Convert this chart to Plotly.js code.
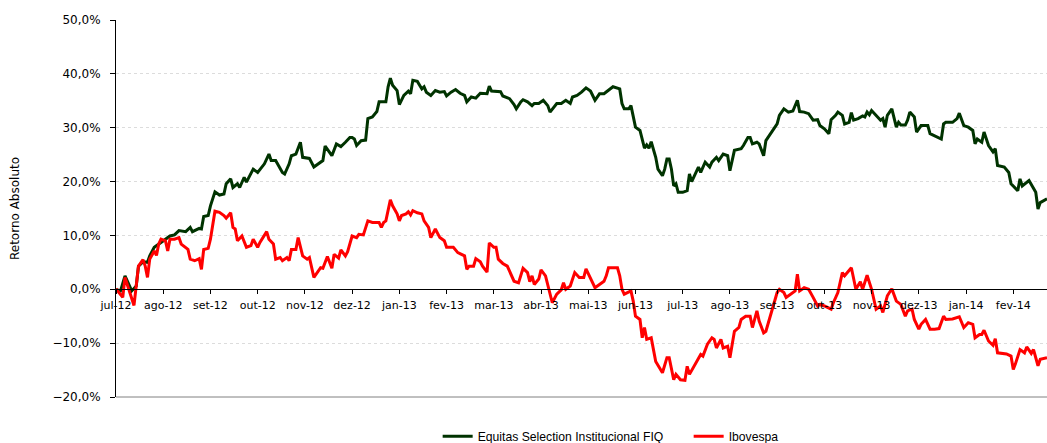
<!DOCTYPE html>
<html>
<head>
<meta charset="utf-8">
<script src="https://cdn.plot.ly/plotly-3.0.1.min.js"></script>
<style>
html,body{margin:0;padding:0;background:#fff;}
#chart{width:1047px;height:443px;}
</style>
</head>
<body>
<div id="chart"></div>
<script>
// Month labels (one every 21 trading days)
const monthLabels = ["jul-12","ago-12","set-12","out-12","nov-12","dez-12","jan-13","fev-13","mar-13","abr-13","mai-13","jun-13","jul-13","ago-13","set-13","out-13","nov-13","dez-13","jan-14","fev-14"];
const daysPerTick = 21;
const lastDay = 414;

// Equitas Selection Institucional FIQ (trading-day index, return %)
const equitasDay = [0,2,4,7,9,10,12,14,15,17,20,22,24,26,28,31,33,34,37,38,39,41,42,44,46,48,49,51,52,54,55,57,58,61,63,66,68,69,71,74,75,77,78,80,82,83,86,88,90,92,93,96,98,100,102,104,105,106,107,109,111,112,114,116,117,120,121,122,123,125,126,128,130,131,132,134,136,137,138,140,142,144,146,147,149,151,153,155,156,158,160,162,165,166,167,169,171,172,175,177,178,180,181,183,185,186,188,190,192,193,194,196,198,200,202,203,205,207,209,211,213,215,217,219,220,221,224,225,226,228,229,230,231,233,235,236,237,238,240,241,243,244,245,246,247,248,249,250,252,254,255,256,258,259,260,262,264,265,267,268,270,272,273,275,278,279,281,282,283,285,286,288,289,291,292,294,295,297,299,301,303,304,306,308,310,312,313,315,317,318,320,321,323,324,326,327,328,330,332,333,334,335,336,338,340,341,342,343,345,347,348,349,351,352,353,355,356,358,360,361,362,364,366,367,368,369,372,374,375,377,379,381,382,383,385,386,388,390,391,392,395,397,398,401,402,403,406,407,409,410,411,414];
const equitasRet = [0,-0.3,2.5,-0.3,0.6,4.3,5.1,5.0,6.2,7.8,8.7,9.3,9.9,10.1,10.9,10.7,11.5,10.7,11.3,11.2,13.5,13.7,15.5,18.1,17.5,17.7,19.6,20.5,18.9,19.6,18.9,20.8,19.9,22.3,21.7,23.3,25.1,23.9,23.9,21.7,21.4,23.3,24.8,25.1,27.3,24.5,24.3,22.7,23.3,23.9,26.6,24.8,27.0,26.5,27.3,28.2,28.2,27.9,26.7,27.6,27.7,31.7,32.0,33.0,34.8,34.8,37.6,39.2,37.9,36.9,34.3,36.0,36.8,36.3,38.8,38.6,37.2,37.6,36.6,36.0,36.9,36.6,36.7,35.9,36.6,37.1,36.4,36.0,34.8,35.7,35.5,36.4,36.3,37.7,36.8,36.8,36.7,35.9,35.4,34.3,33.5,34.8,35.2,34.8,34.1,34.5,34.5,35.1,34.1,32.9,33.5,34.5,34.5,35.1,34.5,35.7,36.0,36.6,37.4,36.8,35.1,36.3,36.3,36.9,37.2,37.6,37.2,34.5,33.5,33.5,34.1,32.3,30.1,29.5,26.2,26.8,26.2,27.4,24.5,22.3,21.1,22.3,24.2,24.2,22.3,19.2,19.6,18.0,18.0,18.3,21.4,20.0,21.7,22.7,21.7,23.6,22.7,23.6,24.5,23.9,25.1,24.8,22.0,25.8,26.1,26.7,28.2,28.2,27.0,27.3,27.0,24.8,27.6,28.9,29.5,30.7,32.3,33.5,32.9,33.1,35.1,33.0,32.9,32.6,31.4,31.5,30.4,29.8,28.9,31.5,32.3,32.9,32.3,30.7,31.0,32.8,31.4,31.7,32.2,32.0,32.9,32.4,33.2,32.3,31.4,31.7,30.1,32.3,33.5,30.1,31.0,30.5,30.5,31.4,32.9,32.0,29.2,30.4,30.4,30.4,28.9,28.5,28.2,27.9,30.7,31.0,31.0,31.7,32.7,30.4,30.1,29.5,27.0,27.9,27.3,29.2,26.7,25.5,26.1,23.0,22.7,21.7,19.6,18.3,20.5,19.2,20.2,19.4,18.0,14.9,16.1,16.8];

// Ibovespa (trading-day index, return %)
const ibovDay = [0,3,4,6,8,10,12,13,14,15,17,18,19,20,22,23,24,26,28,29,31,32,33,35,37,38,39,41,42,44,46,48,49,51,52,53,54,56,58,60,61,63,64,67,68,70,71,73,74,76,77,78,80,81,83,85,86,88,91,92,94,96,97,99,100,102,103,104,105,107,108,110,112,114,117,118,119,120,122,123,125,126,127,129,130,131,132,134,136,137,139,140,142,144,146,147,150,152,155,156,157,159,160,162,163,165,166,168,169,170,172,174,176,177,179,181,183,184,185,186,188,189,191,193,194,196,198,199,200,202,204,206,208,209,211,213,215,217,218,219,223,224,225,226,229,230,231,233,234,235,236,238,239,240,243,245,246,248,249,251,253,254,255,258,260,261,263,265,266,267,269,270,272,273,275,277,278,280,282,283,285,286,288,289,291,292,294,295,297,298,301,302,303,304,306,308,310,312,313,315,318,319,321,323,324,327,329,331,332,334,336,338,340,341,343,345,347,349,351,352,354,355,357,358,360,362,364,366,368,369,372,375,377,379,381,382,384,385,386,388,390,391,392,395,396,398,399,400,402,404,405,407,408,410,411,414];
const ibovRet = [0.1,-1.5,2.2,-0.6,-3.0,4.3,5.5,4.3,2.2,5.6,7.1,6.3,8.4,9.3,9.0,7.1,9.3,9.3,9.6,8.4,7.8,7.4,5.6,5.3,5.7,3.7,7.4,7.6,9.3,14.5,14.3,13.7,13.2,14.2,11.5,11.2,9.0,9.9,7.8,8.1,9.3,7.8,8.7,10.7,9.3,8.4,5.6,5.9,5.3,5.9,5.3,7.4,7.4,9.6,6.2,5.6,5.9,2.2,4.0,3.9,6.1,3.9,6.5,5.8,7.3,6.2,7.0,8.7,9.9,9.6,10.2,10.1,12.7,12.4,12.4,11.5,12.4,12.7,16.6,15.5,14.0,12.7,13.7,14.0,14.4,13.8,14.6,14.2,14.0,12.7,11.5,9.6,11.2,9.6,9.0,7.8,7.8,6.8,6.2,3.7,4.3,4.3,5.7,5.1,4.3,3.2,8.6,7.8,7.8,5.6,4.8,4.3,2.5,1.5,1.2,3.9,3.1,1.4,2.5,0.9,1.9,3.6,2.5,-1.2,-2.5,-0.9,-0.1,1.2,0.0,0.6,3.1,2.2,2.2,3.8,1.9,0.3,0.9,1.5,2.5,4.0,4.0,2.5,0.0,-0.9,-0.3,-2.2,-5.0,-5.6,-9.0,-7.1,-9.3,-9.0,-11.2,-13.4,-15.5,-12.7,-12.7,-16.8,-15.8,-16.8,-16.9,-14.3,-15.8,-13.7,-12.1,-12.4,-10.2,-9.0,-9.3,-10.9,-9.3,-10.9,-10.6,-12.7,-7.8,-7.1,-5.6,-5.0,-5.0,-7.1,-4.0,-5.9,-8.1,-7.8,-5.0,-3.7,-0.6,0.0,-0.6,-1.5,-0.6,-0.3,2.8,-0.3,0.3,0.0,-1.5,-3.1,-2.8,-3.1,-3.7,-2.5,-0.6,3.1,2.5,4.0,0.0,1.4,0.0,2.6,0.0,-3.7,-3.1,-4.3,-1.2,0.1,-2.2,-2.8,-5.0,-4.0,-3.7,-5.6,-7.4,-6.5,-5.6,-7.4,-7.4,-7.3,-5.0,-5.6,-5.5,-5.1,-7.1,-6.2,-6.5,-9.0,-8.4,-8.4,-7.6,-9.6,-10.4,-9.2,-11.8,-12.0,-12.0,-12.4,-14.9,-13.8,-11.2,-11.8,-10.7,-11.9,-11.2,-14.2,-13.0,-12.7];

const yMin = -20, yMax = 50;
const tickVals = monthLabels.map((_, i) => i * daysPerTick);

const traces = [
  {x: equitasDay, y: equitasRet, type: 'scatter', mode: 'lines', name: 'Equitas Selection Institucional FIQ',
   line: {color: '#003300', width: 3}},
  {x: ibovDay, y: ibovRet, type: 'scatter', mode: 'lines', name: 'Ibovespa',
   line: {color: '#ff0000', width: 3}}
];

const layout = {
  width: 1047, height: 443,
  margin: {l: 116, r: 0, t: 20, b: 46},
  paper_bgcolor: '#ffffff', plot_bgcolor: '#ffffff',
  separators: ',.',
  font: {family: 'DejaVu Sans, Verdana, sans-serif', color: '#000000', size: 11},
  showlegend: true,
  legend: {orientation: 'h', x: 0.3455, xanchor: 'left', yref: 'container', y: 0.0155, yanchor: 'middle',
           entrywidth: 206, entrywidthmode: 'pixels',
           font: {size: 12.2, family: 'Liberation Sans, Arial, sans-serif'}, bgcolor: 'rgba(0,0,0,0)', itemwidth: 30},
  xaxis: {
    range: [0, lastDay], tickmode: 'array', tickvals: tickVals, ticktext: monthLabels,
    showgrid: false, zeroline: false, showline: true, linecolor: '#000000', linewidth: 1,
    ticks: 'outside', ticklen: 4, tickcolor: '#000000', tickfont: {size: 11}, ticklabelstandoff: 2,
    anchor: 'free', position: (0 - yMin) / (yMax - yMin)
  },
  yaxis: {
    range: [yMin, yMax], dtick: 10, tickformat: '.1f', ticksuffix: '%',
    showgrid: true, gridcolor: '#dcdcdc', griddash: 'dot', gridwidth: 1,
    zeroline: false, showline: true, linecolor: '#000000', linewidth: 1,
    ticks: 'outside', ticklen: 5, tickcolor: '#000000', tickfont: {size: 12}, ticklabelstandoff: 7,
    title: {text: 'Retorno Absoluto', font: {size: 12}, standoff: 30}
  },
  shapes: [
    {type: 'line', xref: 'paper', yref: 'paper', x0: 0, x1: 1, y0: 0, y1: 0, line: {color: '#808080', width: 1}}
  ]
};

Plotly.newPlot('chart', traces, layout, {staticPlot: true, displayModeBar: false});
</script>
</body>
</html>
